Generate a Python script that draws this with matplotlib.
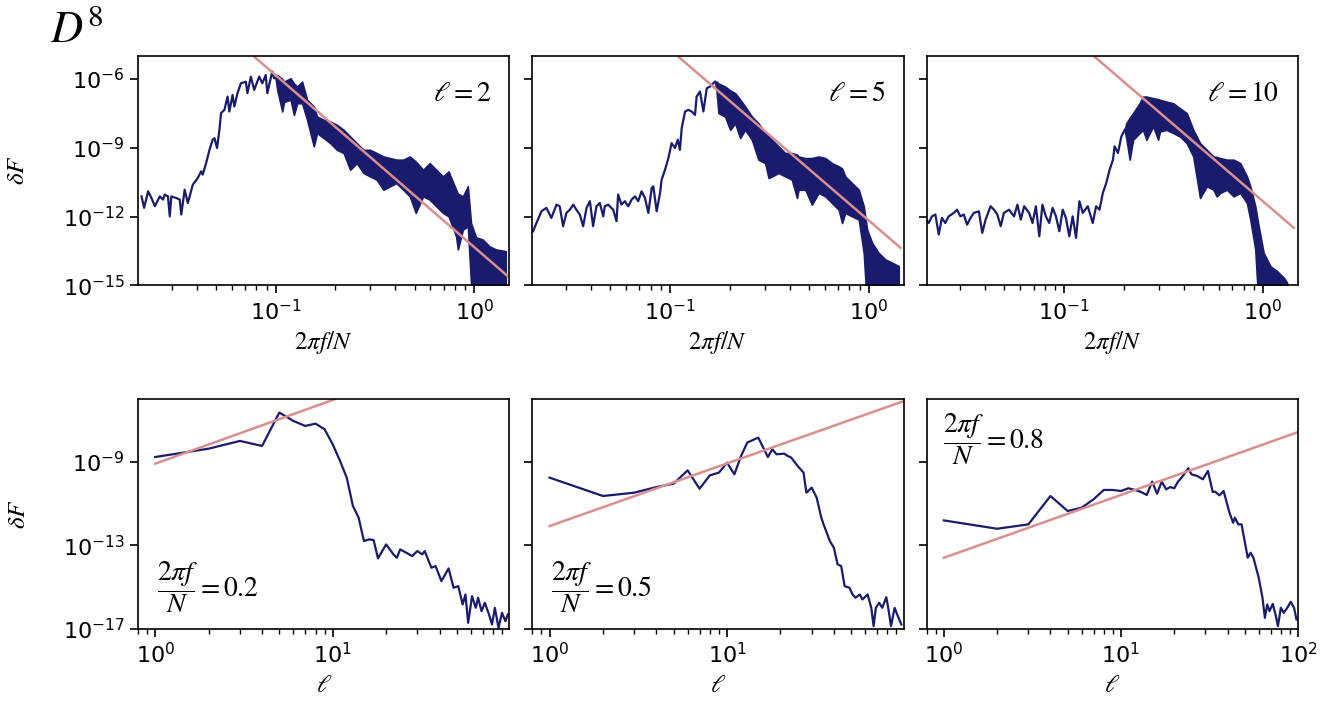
import matplotlib.pyplot as plt
import numpy as np
from matplotlib.ticker import NullLocator

plt.rcParams['mathtext.fontset'] = 'stix'
plt.rcParams['axes.linewidth'] = 1.2

navy = '#1b1b6e'
pink = '#d98f8f'

# ---- top row: spectra, log10 of 2*pi*f/N and log10 of dF ----
# smooth low-frequency part of each spectrum
l2_logf = [-1.675, -1.662, -1.642, -1.625, -1.608, -1.583, -1.567, -1.558, -1.542, -1.533,
           -1.525, -1.5, -1.483, -1.475, -1.458, -1.442, -1.417, -1.392, -1.375, -1.367,
           -1.35, -1.333, -1.317, -1.308, -1.295, -1.283, -1.275, -1.258, -1.242, -1.233,
           -1.217, -1.208, -1.192, -1.175, -1.15, -1.142, -1.125, -1.108, -1.083, -1.067,
           -1.05, -1.042, -1.017, -1.008, -1.0]
l2_logdF = [-11.12, -11.62, -10.90, -11.19, -11.55, -11.12, -11.26, -11.04, -11.12, -11.99,
            -11.12, -11.19, -11.26, -11.91, -10.83, -11.41, -10.61, -10.32, -10.03, -10.17,
            -9.67, -9.09, -8.65, -8.58, -9.01, -8.22, -7.49, -7.35, -6.77, -7.42,
            -6.70, -7.20, -6.62, -6.19, -6.12, -6.62, -5.90, -6.48, -5.90, -6.19,
            -5.83, -6.62, -5.68, -5.97, -5.97]
# dense noisy part: upper / lower envelope
l2_band_logf = [-0.992, -0.967, -0.958, -0.925, -0.908, -0.892, -0.867, -0.842, -0.808, -0.792,
                -0.758, -0.725, -0.692, -0.658, -0.625, -0.592, -0.558, -0.525, -0.492, -0.458,
                -0.425, -0.392, -0.358, -0.325, -0.295, -0.258, -0.225, -0.192, -0.158, -0.13,
                -0.092, -0.083, -0.058, -0.033, -0.017, 0.008, 0.042, 0.075, 0.108, 0.158]
l2_band_hi = [-5.83, -6.00, -6.12, -5.97, -6.2, -6.33, -6.12, -6.91, -7.20, -7.64,
              -7.78, -7.86, -8.0, -8.22, -8.51, -8.80, -9.09, -9.09, -9.23, -9.38,
              -9.45, -9.52, -9.52, -9.38, -9.6, -9.96, -9.67, -9.96, -10.25, -10.03,
              -10.83, -11.0, -11.12, -10.68, -12.28, -12.9, -13.0, -13.29, -13.43, -13.51]
l2_band_lo = [-6.48, -7.42, -7.00, -6.91, -7.57, -7.06, -7.06, -7.78, -8.94, -8.36,
              -8.58, -8.80, -9.09, -9.23, -9.96, -9.67, -10.10, -10.25, -10.39, -10.83,
              -10.68, -10.54, -10.83, -11.12, -11.84, -11.12, -11.26, -11.55, -11.84, -11.99,
              -12.86, -13.43, -12.57, -12.42, -14.88, -16, -16, -16, -16, -16]

l5_logf = [-1.689, -1.672, -1.647, -1.622, -1.597, -1.571, -1.555, -1.538, -1.521, -1.504,
           -1.487, -1.471, -1.454, -1.437, -1.420, -1.403, -1.387, -1.370, -1.353, -1.336,
           -1.328, -1.311, -1.286, -1.269, -1.261, -1.244, -1.227, -1.210, -1.193, -1.176,
           -1.160, -1.143, -1.126, -1.109, -1.092, -1.084, -1.067, -1.050, -1.042, -1.025,
           -1.008, -0.992, -0.975, -0.961, -0.950, -0.941, -0.924, -0.908, -0.891, -0.874,
           -0.866, -0.849, -0.832, -0.815, -0.798, -0.782, -0.773]
l5_logdF = [-12.64, -12.28, -11.77, -11.62, -12.06, -11.48, -11.55, -12.42, -11.84, -11.70,
            -11.48, -11.70, -11.91, -12.42, -11.62, -11.33, -12.42, -11.55, -11.41, -11.99,
            -11.55, -11.48, -11.70, -12.20, -11.04, -11.48, -11.33, -11.55, -11.26, -11.12,
            -11.33, -10.90, -11.19, -11.84, -10.75, -10.68, -11.77, -10.97, -10.39, -9.96,
            -9.45, -8.80, -9.01, -8.65, -9.09, -8.14, -7.42, -7.35, -7.42, -7.57,
            -6.77, -6.55, -7.42, -6.41, -6.33, -6.19, -6.12]
l5_band_logf = [-0.765, -0.756, -0.723, -0.697, -0.672, -0.647, -0.622, -0.588, -0.555, -0.521,
                -0.504, -0.487, -0.454, -0.420, -0.387, -0.361, -0.353, -0.319, -0.286, -0.252,
                -0.218, -0.185, -0.151, -0.134, -0.118, -0.084, -0.050, -0.025, -0.008, 0.017,
                0.050, 0.084, 0.118, 0.151]
l5_band_hi = [-6.12, -6.2, -6.33, -6.5, -6.62, -6.9, -7.20, -7.64, -7.93, -8.36,
              -8.5, -8.65, -8.94, -9.23, -9.23, -9.3, -9.38, -9.45, -9.45, -9.38,
              -9.45, -9.67, -9.81, -9.9, -10.25, -10.54, -10.83, -11.55, -12.57, -13.14,
              -13.58, -13.87, -14.01, -14.16]
l5_band_lo = [-6.6, -7.49, -7.64, -8.22, -7.93, -8.58, -8.22, -8.65, -9.52, -9.67,
              -10.32, -10.25, -10.10, -10.25, -10.39, -11.19, -10.83, -10.83, -11.48, -10.97,
              -11.12, -11.41, -11.70, -12.28, -11.84, -11.99, -12.13, -13.58, -16, -16,
              -16, -16, -16, -16]

l10_logf = [-1.700, -1.683, -1.666, -1.649, -1.632, -1.616, -1.599, -1.582, -1.556, -1.540,
            -1.523, -1.506, -1.489, -1.472, -1.455, -1.430, -1.413, -1.396, -1.371, -1.354,
            -1.337, -1.320, -1.304, -1.278, -1.253, -1.236, -1.219, -1.202, -1.177, -1.160,
            -1.143, -1.126, -1.110, -1.093, -1.076, -1.059, -1.042, -1.025, -1.008, -0.992,
            -0.975, -0.958, -0.941, -0.924, -0.907, -0.882, -0.857, -0.840, -0.823, -0.806,
            -0.789, -0.772, -0.755, -0.747, -0.730, -0.713, -0.696]
l10_logdF = [-12.06, -12.28, -11.99, -11.91, -12.78, -12.06, -12.28, -11.99, -11.84, -11.70,
             -11.99, -11.91, -12.35, -12.06, -11.84, -11.77, -12.71, -12.13, -11.55, -11.70,
             -11.91, -12.42, -11.84, -11.70, -11.99, -11.48, -12.13, -11.55, -11.84, -12.28,
             -11.55, -12.86, -11.48, -11.99, -12.28, -11.62, -11.99, -12.64, -11.70, -12.06,
             -12.86, -11.99, -12.93, -11.33, -11.84, -11.55, -12.28, -11.55, -11.70, -10.97,
             -10.54, -9.96, -9.52, -8.94, -9.23, -8.51, -8.22]
l10_band_logf = [-0.688, -0.671, -0.654, -0.621, -0.604, -0.587, -0.553, -0.528, -0.519, -0.486,
                 -0.452, -0.418, -0.384, -0.351, -0.317, -0.283, -0.250, -0.233, -0.216, -0.182,
                 -0.148, -0.115, -0.081, -0.064, -0.039, -0.022, 0.003, 0.037, 0.071, 0.105,
                 0.121]
l10_band_hi = [-7.93, -7.7, -7.49, -7.06, -6.77, -6.77, -6.84, -6.88, -6.91, -6.99,
               -7.06, -7.28, -7.49, -8.22, -8.80, -9.09, -9.38, -9.4, -9.45, -9.52,
               -9.52, -9.67, -10.25, -10.68, -11.55, -12.42, -13.58, -14.16, -14.38, -14.67,
               -14.88]
l10_band_lo = [-8.6, -9.52, -8.65, -8.36, -8.22, -8.65, -8.07, -8.65, -8.29, -8.22,
               -8.36, -8.51, -8.80, -9.38, -11.19, -10.68, -10.83, -11.12, -10.97, -10.83,
               -11.12, -10.97, -11.41, -12.13, -13.43, -16, -16, -16, -16, -16,
               -16]

# power-law guide lines (end points, log10)
fit_top_logf = [[-1.108, 0.167], [-0.958, 0.160], [-0.848, 0.155]]
fit_top_logdF = [[-5.03, -14.59], [-5.03, -13.36], [-5.03, -12.49]]
top_labels = [r'$\ell=2$', r'$\ell=5$', r'$\ell=10$']

# ---- bottom row: dF against ell at fixed frequency ----
f02_ell = [1, 2, 3, 4, 5, 6, 7, 8, 9, 10, 11, 12, 13, 14, 15, 16, 17, 18,
           20, 22, 23, 24, 26, 28, 30, 32, 33, 36, 38, 41, 45, 48, 51, 54, 56, 58,
           61, 64, 66, 69, 72, 76, 79, 82, 86, 90, 94, 97]
f02_logdF = [-8.76, -8.36, -7.99, -8.23, -6.63, -7.03, -7.27, -7.16, -7.43, -8.15,
             -8.95, -9.75, -11.11, -11.67, -12.79, -12.71, -12.74, -13.62,
             -12.95, -13.43, -13.59, -13.19, -13.35, -13.51, -13.27, -13.43, -13.27, -14.07,
             -13.99, -14.71, -14.10, -15.03, -14.95, -15.83, -15.35, -16.71, -15.43, -15.99,
             -15.51, -16.15, -15.75, -16.31, -16.79, -15.99, -16.95, -16.23, -16.63, -16.31]
f05_ell = [1, 2, 3, 4, 5, 6, 7, 8, 9, 10, 11, 12, 13, 15, 16, 17, 18, 19,
           21, 22, 23, 25, 27, 28, 30, 32, 34, 35, 38, 40, 42, 44, 46, 49, 51, 53,
           56, 58, 62, 65, 67, 69, 72, 75, 79, 81, 84, 88, 91, 96]
f05_logdF = [-9.75, -10.63, -10.47, -10.20, -10.04, -9.40, -10.28, -9.64, -9.51, -9.03,
             -9.59, -8.71, -8.07, -7.83, -8.31, -8.76, -8.39, -8.63,
             -8.60, -8.71, -8.79, -9.19, -9.51, -10.47, -10.23, -10.71, -11.67, -11.99,
             -12.79, -13.11, -13.91, -13.99, -14.95, -15.03, -15.35, -15.51, -15.35, -15.59,
             -15.35, -15.99, -16.87, -15.99, -15.75, -15.99, -15.48, -15.99, -16.87, -15.99,
             -16.31, -16.79]
f08_ell = [1, 2, 3, 4, 5, 6, 7, 8, 9, 10, 11, 12, 13, 14, 15, 16, 17, 18, 19, 20, 21, 22,
           24, 25, 27, 29, 31, 33, 34, 36, 38, 41, 43, 44, 46, 48, 52, 54, 56, 60,
           63, 65, 67, 69, 72, 75, 77, 80, 83, 87, 91, 95, 98]
f08_logdF = [-11.80, -12.20, -11.99, -10.63, -11.35, -11.19, -10.79, -10.34, -10.34, -10.39,
             -10.26, -10.34, -10.44, -10.58, -9.94, -10.52, -9.94, -10.31, -10.20, -10.26,
             -9.94, -9.75, -9.30, -9.59, -9.67, -9.83, -9.43, -10.44, -10.42, -10.60,
             -10.39, -11.43, -11.91, -11.67, -11.99, -11.99, -13.59, -13.35, -13.59, -14.55,
             -15.51, -16.47, -15.83, -16.15, -15.80, -16.39, -16.87, -15.99, -16.23, -15.99,
             -15.70, -15.99, -16.55]

fit_bot_ell = [[1, 10.2], [1, 97.5], [1, 98.3]]
fit_bot_logdF = [[-9.08, -6.0], [-12.07, -6.10], [-13.59, -7.59]]
bot_labels = [r'$\dfrac{2\pi f}{N}=0.2$', r'$\dfrac{2\pi f}{N}=0.5$', r'$\dfrac{2\pi f}{N}=0.8$']

top_line = [(l2_logf, l2_logdF), (l5_logf, l5_logdF), (l10_logf, l10_logdF)]
top_band = [(l2_band_logf, l2_band_hi, l2_band_lo),
            (l5_band_logf, l5_band_hi, l5_band_lo),
            (l10_band_logf, l10_band_hi, l10_band_lo)]
bot_data = [(f02_ell, f02_logdF), (f05_ell, f05_logdF), (f08_ell, f08_logdF)]

fig, axes = plt.subplots(2, 3, figsize=(13.43, 7.13), dpi=100, sharey='row')
fig.subplots_adjust(left=0.1028, right=0.9665, bottom=0.118, top=0.9215,
                    wspace=0.062, hspace=0.497)

for i in range(3):
    ax = axes[0, i]
    lx, ly = top_line[i]
    bx, bhi, blo = top_band[i]
    # band starts where the resolved line ends
    bx = np.concatenate([[lx[-1]], bx])
    bhi = np.concatenate([[ly[-1]], bhi])
    blo = np.concatenate([[ly[-1]], blo])
    ax.plot(10.0 ** np.array(lx), 10.0 ** np.array(ly), color=navy, lw=1.6)
    ax.fill_between(10.0 ** bx, 10.0 ** blo, 10.0 ** bhi, color=navy, lw=1.2)
    ax.plot(10.0 ** np.array(fit_top_logf[i]), 10.0 ** np.array(fit_top_logdF[i]),
            color=pink, lw=1.8)
    ax.set_xscale('log')
    ax.set_yscale('log')
    ax.set_xlim(0.0203, 1.5)
    ax.set_ylim(1e-15, 1e-5)
    ax.set_yticks([1e-6, 1e-9, 1e-12, 1e-15])
    ax.yaxis.set_minor_locator(NullLocator())
    ax.set_xlabel(r'$2\pi f/N$', fontsize=18)
    ax.text(0.95, 0.84, top_labels[i], transform=ax.transAxes, ha='right', va='center',
            fontsize=20)

for i in range(3):
    ax = axes[1, i]
    ell, ly = bot_data[i]
    ax.plot(ell, 10.0 ** np.array(ly), color=navy, lw=1.6)
    ax.plot(fit_bot_ell[i], 10.0 ** np.array(fit_bot_logdF[i]), color=pink, lw=1.8)
    ax.set_xscale('log')
    ax.set_yscale('log')
    ax.set_xlim(0.8, 100 if i == 2 else 99)
    ax.set_ylim(1e-17, 1e-6)
    ax.set_yticks([1e-9, 1e-13, 1e-17])
    ax.yaxis.set_minor_locator(NullLocator())
    ax.set_xlabel(r'$\ell$', fontsize=18)
    if i == 2:
        ax.text(0.045, 0.825, bot_labels[i], transform=ax.transAxes, ha='left', va='center',
                fontsize=20)
    else:
        ax.text(0.05, 0.18, bot_labels[i], transform=ax.transAxes, ha='left', va='center',
                fontsize=20)

for ax in axes.flat:
    ax.tick_params(which='major', labelsize=16, length=6, width=1.2)
    ax.tick_params(which='minor', length=3.5, width=1.0)

axes[0, 0].set_ylabel(r'$\delta F$', fontsize=18, labelpad=24)
axes[1, 0].set_ylabel(r'$\delta F$', fontsize=18, labelpad=24)

fig.text(0.037, 0.941, r'$D^8$', fontsize=32, va='baseline', ha='left')

fig.savefig('out.png', dpi=100)
